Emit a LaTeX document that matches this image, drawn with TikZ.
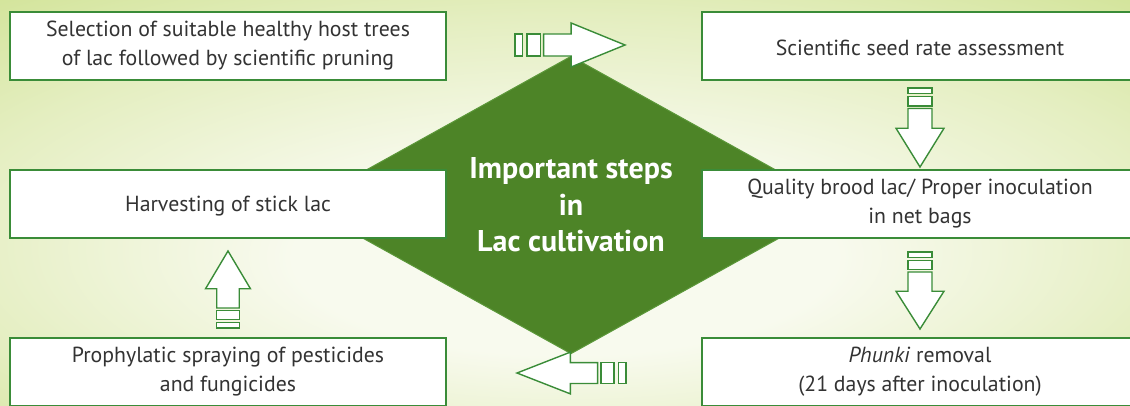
\documentclass[tikz,border=0pt]{standalone}
\usepackage{fontspec}
\setmainfont{PT Sans}
\usetikzlibrary{shapes.geometric}

\definecolor{boxgreen}{RGB}{58,140,56}
\definecolor{coregreen}{RGB}{77,132,39}
\definecolor{coreedge}{RGB}{92,152,58}
\definecolor{glowin}{RGB}{248,250,238}
\definecolor{glowmid}{RGB}{228,238,192}
\definecolor{glowout}{RGB}{190,216,108}
\definecolor{steptext}{RGB}{51,51,51}

\pgfdeclareradialshading{fieldglow}{\pgfpoint{0bp}{-8bp}}{color(0bp)=(glowin); color(12bp)=(glowin); color(28bp)=(glowmid); color(52bp)=(glowout); color(75bp)=(glowout)}

\tikzset{
  stepbox/.style={draw=boxgreen, line width=1.6pt, fill=white, minimum width=436pt,
    minimum height=68pt, inner sep=0pt, align=center, text=steptext,
    font=\fontsize{21.8}{29}\selectfont, execute at begin node={\rule{0pt}{20pt}}},
  corestep/.style={diamond, fill=coregreen, draw=coreedge, line width=1pt,
    minimum width=536pt, minimum height=244pt, inner sep=0pt, align=center,
    text=white, font=\bfseries\fontsize{30}{36.5}\selectfont},
  arrowline/.style={draw=boxgreen, line width=1.4pt, fill=white, line join=miter},
  pics/flowarrow/.style={code={
    \draw[arrowline] (0,-11) rectangle (7,11);
    \draw[arrowline] (11,-11) rectangle (23,11);
    \draw[arrowline] (26,-11) -- (51,-11) -- (51,-22) -- (100,0) -- (51,22) -- (51,11) -- (26,11) -- cycle;
  }}
}

\begin{document}
\begin{tikzpicture}[x=1pt,y=-1pt]
    \clip (0,0) rectangle (1130,406);
    \shade[shading=fieldglow] (0,0) rectangle (1130,406);

    \coordinate (mid) at (571,205);
    \coordinate (tl) at (228,46);
    \coordinate (tr) at (920,46);
    \coordinate (ml) at (228,204);
    \coordinate (mr) at (920,204);
    \coordinate (bl) at (228,372);
    \coordinate (br) at (920,372);

    \node[corestep] (core) at (mid) {Important steps\\in\\Lac cultivation};

    \node[stepbox] (seltree) at (tl) {Selection of suitable healthy host trees\\of lac followed by scientific pruning};
    \node[stepbox] (seedrate) at (tr) {Scientific seed rate assessment};
    \node[stepbox] (broodlac) at (mr) {Quality brood lac/ Proper inoculation\\in net bags};
    \node[stepbox] (phunki) at (br) {\textit{Phunki} removal\\(21 days after inoculation)};
    \node[stepbox] (spraying) at (bl) {Prophylatic spraying of pesticides\\and fungicides};
    \node[stepbox] (harvest) at (ml) {Harvesting of stick lac};

    % flow arrows between the steps
    \pic[xscale=1.1] at (515,45) {flowarrow};
    \pic[rotate=-90,xscale=0.79,yscale=1.09] at (920,88) {flowarrow};
    \pic[rotate=-90,xscale=0.77,yscale=1.09] at (920,252) {flowarrow};
    \pic[rotate=180,xscale=1.09,yscale=0.95] at (626,373) {flowarrow};
    \pic[rotate=90,xscale=0.77,yscale=1.02] at (228,328) {flowarrow};

\end{tikzpicture}
\end{document}
